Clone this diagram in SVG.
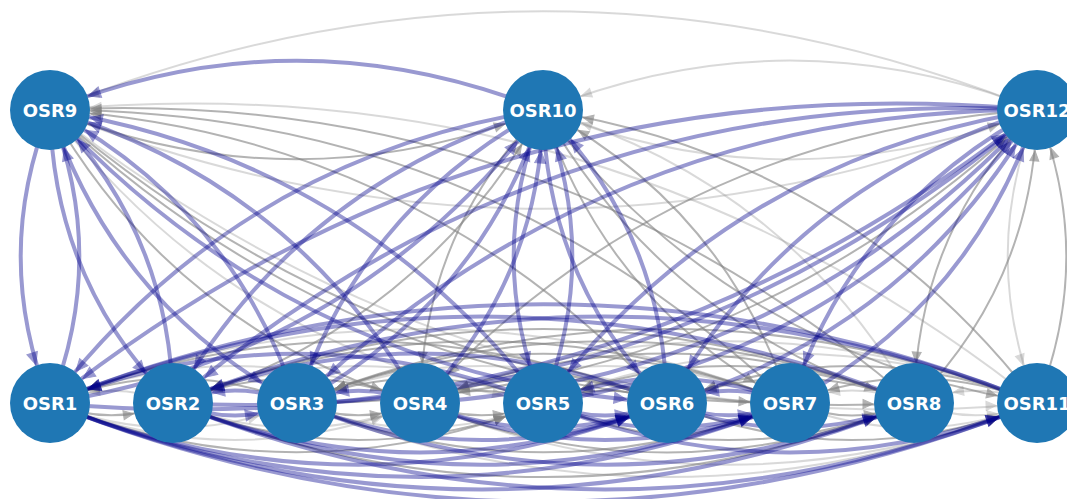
<svg xmlns="http://www.w3.org/2000/svg" width="1067" height="499" viewBox="0 0 1067 499">
<style>
path.b,path.g,path.l{fill:none}
.b{stroke:#00008b;stroke-opacity:.4;stroke-width:4;marker-end:url(#bL)}
.b.m{marker-end:url(#bM)} .b.s{marker-end:url(#bS)}
.g{stroke:#808080;stroke-opacity:.6;stroke-width:2;marker-end:url(#gL)}
.g.m{marker-end:url(#gM)} .g.s{marker-end:url(#gS)}
.l{stroke:#808080;stroke-opacity:.3;stroke-width:2;marker-end:url(#lL)}
.l.m{marker-end:url(#lM)} .l.s{marker-end:url(#lS)}
.node circle{fill:#1f77b4}
.node text{fill:#fff;font-family:"DejaVu Sans","Liberation Sans",sans-serif;font-weight:bold;font-size:18px;text-anchor:middle}
.hb{fill:#00008b;stroke:#00008b;stroke-width:1;opacity:.4}
.hg{fill:#808080;stroke:#808080;stroke-width:1;opacity:.6}
.hl{fill:#808080;stroke:#808080;stroke-width:1;opacity:.3}
</style>
<defs>
<path id="ab" d="M0 0L-12 -5.5L-12 5.5Z"/>
<path id="ag" d="M0 0L-10 -4.5L-10 4.5Z"/>
<marker id="bL" markerUnits="userSpaceOnUse" markerWidth="10" markerHeight="10" orient="auto" overflow="visible"><use href="#ab" class="hb" transform="translate(-41,-1.2) rotate(3.5)"/></marker>
<marker id="bM" markerUnits="userSpaceOnUse" markerWidth="10" markerHeight="10" orient="auto" overflow="visible"><use href="#ab" class="hb" transform="translate(-40.8,-2.25) rotate(6.5)"/></marker>
<marker id="bS" markerUnits="userSpaceOnUse" markerWidth="10" markerHeight="10" orient="auto" overflow="visible"><use href="#ab" class="hb" transform="translate(-40.7,-4.7) rotate(13.6)"/></marker>
<marker id="gL" markerUnits="userSpaceOnUse" markerWidth="10" markerHeight="10" orient="auto" overflow="visible"><use href="#ag" class="hg" transform="translate(-41,-1.2) rotate(3.5)"/></marker>
<marker id="gM" markerUnits="userSpaceOnUse" markerWidth="10" markerHeight="10" orient="auto" overflow="visible"><use href="#ag" class="hg" transform="translate(-40.8,-2.25) rotate(6.5)"/></marker>
<marker id="gS" markerUnits="userSpaceOnUse" markerWidth="10" markerHeight="10" orient="auto" overflow="visible"><use href="#ag" class="hg" transform="translate(-40.7,-4.7) rotate(13.6)"/></marker>
<marker id="lL" markerUnits="userSpaceOnUse" markerWidth="10" markerHeight="10" orient="auto" overflow="visible"><use href="#ag" class="hl" transform="translate(-41,-1.2) rotate(3.5)"/></marker>
<marker id="lM" markerUnits="userSpaceOnUse" markerWidth="10" markerHeight="10" orient="auto" overflow="visible"><use href="#ag" class="hl" transform="translate(-40.8,-2.25) rotate(6.5)"/></marker>
<marker id="lS" markerUnits="userSpaceOnUse" markerWidth="10" markerHeight="10" orient="auto" overflow="visible"><use href="#ag" class="hl" transform="translate(-40.7,-4.7) rotate(13.6)"/></marker>
</defs>
<rect width="1067" height="499" fill="#fff"/>
<g id="edges">
<!-- light -->
<path class="l" d="M1037 110Q543.5 -87.4 50 110"/>
<path class="l" d="M1037 110Q790 11.2 543 110"/>
<path class="l" d="M543 110Q790 208.8 1037 110"/>
<path class="l" d="M50 110Q543.5 307.4 1037 110"/>
<path class="l m" d="M50 403Q173.5 452.4 297 403"/>
<path class="l" d="M50 403Q235 477 420 403"/>
<path class="l m" d="M173 403Q296.5 452.4 420 403"/>
<path class="l m" d="M297 403Q420 452.2 543 403"/>
<path class="l" d="M297 403Q667 551 1037 403"/>
<path class="l" d="M420 403Q728.5 526.4 1037 403"/>
<path class="l m" d="M790 403Q913.5 452.4 1037 403"/>
<path class="l s" d="M914 403Q975.5 427.6 1037 403"/>
<path class="l s" d="M173 403Q111.5 378.4 50 403"/>
<path class="l" d="M420 403Q235 329 50 403"/>
<path class="l" d="M790 403Q420 255 50 403"/>
<path class="l" d="M543 403Q358 329 173 403"/>
<path class="l" d="M667 403Q482 329 297 403"/>
<path class="l" d="M790 403Q605 329 420 403"/>
<path class="l" d="M1037 403Q728.5 279.6 420 403"/>
<path class="l" d="M1037 403Q790 304.2 543 403"/>
<path class="l s" d="M914 403Q852 378.2 790 403"/>
<path class="l s" d="M1037 403Q975.5 378.4 914 403"/>
<path class="l" d="M50 110Q237.9 355.1 543 403"/>
<path class="l" d="M50 110Q484.9 453.9 1037 403"/>
<path class="l" d="M1037 403Q602.1 59.1 50 110"/>
<path class="l" d="M914 403Q787.1 182.3 543 110"/>
<path class="l" d="M1037 110Q978.4 256.5 1037 403"/>
<!-- gray -->
<path class="g" d="M50 110Q296.5 208.6 543 110"/>
<path class="g s" d="M50 403Q111.5 427.6 173 403"/>
<path class="g" d="M50 403Q296.5 501.6 543 403"/>
<path class="g" d="M173 403Q358 477 543 403"/>
<path class="g" d="M173 403Q543.5 551.2 914 403"/>
<path class="g s" d="M297 403Q358.5 427.6 420 403"/>
<path class="g" d="M297 403Q543.5 501.6 790 403"/>
<path class="g s" d="M420 403Q481.5 427.6 543 403"/>
<path class="g" d="M420 403Q667 501.8 914 403"/>
<path class="g" d="M543 403Q728.5 477.2 914 403"/>
<path class="g" d="M667 403Q852 477 1037 403"/>
<path class="g s" d="M790 403Q852 427.8 914 403"/>
<path class="g m" d="M297 403Q173.5 353.6 50 403"/>
<path class="g" d="M667 403Q358.5 279.6 50 403"/>
<path class="g m" d="M420 403Q296.5 353.6 173 403"/>
<path class="g" d="M790 403Q481.5 279.6 173 403"/>
<path class="g" d="M914 403Q543.5 254.8 173 403"/>
<path class="g m" d="M543 403Q420 353.8 297 403"/>
<path class="g" d="M790 403Q543.5 304.4 297 403"/>
<path class="g" d="M914 403Q605.5 279.6 297 403"/>
<path class="g" d="M1037 403Q667 255 297 403"/>
<path class="g s" d="M543 403Q481.5 378.4 420 403"/>
<path class="g m" d="M667 403Q543.5 353.6 420 403"/>
<path class="g" d="M914 403Q667 304.2 420 403"/>
<path class="g s" d="M667 403Q605 378.2 543 403"/>
<path class="g" d="M914 403Q728.5 328.8 543 403"/>
<path class="g m" d="M914 403Q790.5 353.6 667 403"/>
<path class="g" d="M1037 403Q852 329 667 403"/>
<path class="g m" d="M1037 403Q913.5 353.6 790 403"/>
<path class="g" d="M50 110Q176.4 330.5 420 403"/>
<path class="g" d="M50 110Q361.4 404.5 790 403"/>
<path class="g" d="M50 110Q423.4 429.3 914 403"/>
<path class="g" d="M667 403Q417.1 133.1 50 110"/>
<path class="g" d="M790 403Q478.6 108.5 50 110"/>
<path class="g" d="M914 403Q540.6 83.7 50 110"/>
<path class="g" d="M543 110Q422.9 231.9 420 403"/>
<path class="g" d="M543 110Q607.9 305.9 790 403"/>
<path class="g" d="M543 110Q669.9 330.7 914 403"/>
<path class="g" d="M543 110Q731.4 355.3 1037 403"/>
<path class="g" d="M173 403Q416.6 330.5 543 110"/>
<path class="g" d="M790 403Q725.1 207.1 543 110"/>
<path class="g" d="M1037 403Q848.6 157.7 543 110"/>
<path class="g" d="M1037 110Q669.9 133.1 420 403"/>
<path class="g" d="M1037 110Q916.9 231.9 914 403"/>
<path class="g" d="M297 403Q725.6 404.5 1037 110"/>
<path class="g" d="M914 403Q1034.1 281.1 1037 110"/>
<path class="g" d="M1037 403Q1095.6 256.5 1037 110"/>
<!-- blue -->
<path class="b" d="M543 110Q296.5 11.4 50 110"/>
<path class="b" d="M50 403Q358.5 526.4 667 403"/>
<path class="b" d="M50 403Q420 551 790 403"/>
<path class="b" d="M50 403Q482 575.8 914 403"/>
<path class="b" d="M50 403Q543.5 600.4 1037 403"/>
<path class="b s" d="M173 403Q235 427.8 297 403"/>
<path class="b" d="M173 403Q420 501.8 667 403"/>
<path class="b" d="M173 403Q481.5 526.4 790 403"/>
<path class="b" d="M173 403Q605 575.8 1037 403"/>
<path class="b" d="M297 403Q482 477 667 403"/>
<path class="b" d="M297 403Q605.5 526.4 914 403"/>
<path class="b m" d="M420 403Q543.5 452.4 667 403"/>
<path class="b" d="M420 403Q605 477 790 403"/>
<path class="b s" d="M543 403Q605 427.8 667 403"/>
<path class="b m" d="M543 403Q666.5 452.4 790 403"/>
<path class="b" d="M543 403Q790 501.8 1037 403"/>
<path class="b s" d="M667 403Q728.5 427.6 790 403"/>
<path class="b m" d="M667 403Q790.5 452.4 914 403"/>
<path class="b" d="M543 403Q296.5 304.4 50 403"/>
<path class="b" d="M914 403Q482 230.2 50 403"/>
<path class="b" d="M1037 403Q543.5 205.6 50 403"/>
<path class="b s" d="M297 403Q235 378.2 173 403"/>
<path class="b" d="M667 403Q420 304.2 173 403"/>
<path class="b" d="M1037 403Q605 230.2 173 403"/>
<path class="b s" d="M420 403Q358.5 378.4 297 403"/>
<path class="b m" d="M790 403Q666.5 353.6 543 403"/>
<path class="b s" d="M790 403Q728.5 378.4 667 403"/>
<path class="b" d="M50 110Q-8.6 256.5 50 403"/>
<path class="b" d="M50 110Q52.9 281.1 173 403"/>
<path class="b" d="M50 110Q114.9 305.9 297 403"/>
<path class="b" d="M50 110Q299.9 379.9 667 403"/>
<path class="b" d="M50 403Q108.6 256.5 50 110"/>
<path class="b" d="M173 403Q170.1 231.9 50 110"/>
<path class="b" d="M297 403Q232.1 207.1 50 110"/>
<path class="b" d="M420 403Q293.6 182.5 50 110"/>
<path class="b" d="M543 403Q355.1 157.9 50 110"/>
<path class="b" d="M543 110Q237.9 157.9 50 403"/>
<path class="b" d="M543 110Q299.4 182.5 173 403"/>
<path class="b" d="M543 110Q361.4 207.3 297 403"/>
<path class="b" d="M543 110Q484.4 256.5 543 403"/>
<path class="b" d="M543 110Q546.4 281.3 667 403"/>
<path class="b" d="M50 403Q355.1 355.1 543 110"/>
<path class="b" d="M297 403Q478.6 305.7 543 110"/>
<path class="b" d="M420 403Q540.1 281.1 543 110"/>
<path class="b" d="M543 403Q601.6 256.5 543 110"/>
<path class="b" d="M667 403Q663.6 231.7 543 110"/>
<path class="b" d="M1037 110Q484.9 59.1 50 403"/>
<path class="b" d="M1037 110Q546.4 83.7 173 403"/>
<path class="b" d="M1037 110Q608.4 108.5 297 403"/>
<path class="b" d="M1037 110Q731.4 157.7 543 403"/>
<path class="b" d="M1037 110Q793.4 182.5 667 403"/>
<path class="b" d="M1037 110Q854.9 207.1 790 403"/>
<path class="b" d="M50 403Q602.1 453.9 1037 110"/>
<path class="b" d="M173 403Q663.6 429.3 1037 110"/>
<path class="b" d="M420 403Q787.1 379.9 1037 110"/>
<path class="b" d="M543 403Q848.6 355.3 1037 110"/>
<path class="b" d="M667 403Q910.6 330.5 1037 110"/>
<path class="b" d="M790 403Q972.1 305.9 1037 110"/>
</g>
<g id="OSR9" class="node"><circle cx="50" cy="110" r="40"/><text x="50" y="116.5">OSR9</text></g>
<g id="OSR10" class="node"><circle cx="543" cy="110" r="40"/><text x="543" y="116.5">OSR10</text></g>
<g id="OSR12" class="node"><circle cx="1037" cy="110" r="40"/><text x="1037" y="116.5">OSR12</text></g>
<g id="OSR1" class="node"><circle cx="50" cy="403" r="40"/><text x="50" y="409.5">OSR1</text></g>
<g id="OSR2" class="node"><circle cx="173" cy="403" r="40"/><text x="173" y="409.5">OSR2</text></g>
<g id="OSR3" class="node"><circle cx="297" cy="403" r="40"/><text x="297" y="409.5">OSR3</text></g>
<g id="OSR4" class="node"><circle cx="420" cy="403" r="40"/><text x="420" y="409.5">OSR4</text></g>
<g id="OSR5" class="node"><circle cx="543" cy="403" r="40"/><text x="543" y="409.5">OSR5</text></g>
<g id="OSR6" class="node"><circle cx="667" cy="403" r="40"/><text x="667" y="409.5">OSR6</text></g>
<g id="OSR7" class="node"><circle cx="790" cy="403" r="40"/><text x="790" y="409.5">OSR7</text></g>
<g id="OSR8" class="node"><circle cx="914" cy="403" r="40"/><text x="914" y="409.5">OSR8</text></g>
<g id="OSR11" class="node"><circle cx="1037" cy="403" r="40"/><text x="1037" y="409.5">OSR11</text></g>
</svg>
